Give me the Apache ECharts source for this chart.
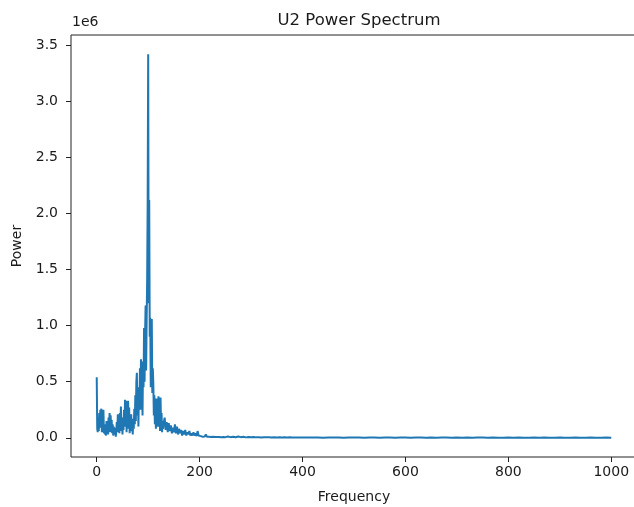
<!DOCTYPE html>
<html>
<head>
<meta charset="utf-8">
<script src="https://cdn.jsdelivr.net/npm/echarts@6/dist/echarts.min.js"></script>
<style>html,body{margin:0;padding:0;background:#fff;}#c{width:634px;height:507px;}</style>
</head>
<body>
<div id="c"></div>
<script>
// Frequency (Hz) and power (in units of 1e6)
const freqLow = [0,1,2,3,4,5,6,7,8,9,10,11,12,13,14,15,16,17,18,19,20,21,22,23,24,25,26,27,28,29,30,31,32,33,34,35,36,37,38,39,40,41,42,43,44,45,46,47,48,49,50,51,52,53,54,55,56,57,58,59,60,61,62,63,64,65,66,67,68,69,70,71,72,73,74,75,76,77,78,79,80,81,82,83,84,85,86,87,88,89,90,91,92,93,94,95,96,97,98,99,100,101,102,103,104,105,106,107,108,109,110,111,112,113,114,115,116,117,118,119,120,121,122,123,124,125,126,127,128,129,130];
const powLow = [0.54,0.08,0.05,0.12,0.06,0.22,0.09,0.25,0.10,0.26,0.05,0.18,0.08,0.25,0.04,0.12,0.03,0.09,0.02,0.15,0.06,0.08,0.03,0.18,0.07,0.22,0.05,0.20,0.09,0.16,0.04,0.12,0.02,0.10,0.05,0.03,0.09,0.01,0.06,0.14,0.05,0.21,0.08,0.17,0.04,0.22,0.10,0.28,0.06,0.18,0.03,0.12,0.07,0.25,0.10,0.34,0.12,0.33,0.05,0.30,0.15,0.33,0.08,0.27,0.04,0.18,0.10,0.21,0.06,0.12,0.03,0.17,0.08,0.26,0.12,0.38,0.15,0.50,0.58,0.20,0.45,0.10,0.40,0.30,0.62,0.25,0.70,0.35,0.55,0.20,0.68,0.45,0.98,0.50,0.93,1.18,0.60,1.05,1.40,2.10,3.42,1.20,2.12,0.90,1.07,0.45,0.95,1.06,0.40,0.62,0.48,0.20,0.38,0.12,0.30,0.08,0.35,0.15,0.28,0.10,0.37,0.18,0.33,0.06,0.36,0.12,0.22,0.05,0.15,0.08,0.13];
const freqMid = [132,134,136,138,140,142,144,146,148,150,152,154,156,158,160,162,164,166,168,170,172,174,176,178,180,182,184,186,188,190,192,194,196,198,200,202,204,206,208,210,212,214,216,218,220,222,224,226,228,230,232,234,236,238,240,242,244,246,248,250];
const powMid = [0.18,0.07,0.14,0.05,0.13,0.06,0.11,0.04,0.09,0.05,0.12,0.04,0.10,0.03,0.08,0.04,0.07,0.02,0.06,0.03,0.07,0.02,0.05,0.03,0.06,0.02,0.04,0.02,0.05,0.02,0.04,0.015,0.06,0.02,0.035,0.015,0.03,0.01,0.025,0.012,0.03,0.01,0.022,0.01,0.02,0.008,0.018,0.01,0.02,0.008,0.016,0.007,0.015,0.008,0.014,0.006,0.012,0.007,0.012,0.006];
const freqHigh = [255,260,265,270,275,280,285,290,295,300,305,310,315,320,325,330,335,340,345,350,355,360,365,370,375,380,385,390,395,400];
const powHigh = [0.011,0.006,0.010,0.005,0.012,0.006,0.009,0.004,0.008,0.005,0.007,0.004,0.006,0.003,0.006,0.004,0.005,0.003,0.005,0.003,0.004,0.002,0.004,0.003,0.004,0.002,0.003,0.002,0.003,0.002];
const freqTail = [410,420,430,440,450,460,470,480,490,500,510,520,530,540,550,560,570,580,590,600,610,620,630,640,650,660,670,680,690,700,710,720,730,740,750,760,770,780,790,800,810,820,830,840,850,860,870,880,890,900,910,920,930,940,950,960,970,980,990,1000];
const powTail = [0.003,0.002,0.003,0.001,0.002,0.003,0.002,0.001,0.002,0.002,0.003,0.001,0.002,0.002,0.001,0.003,0.002,0.001,0.002,0.002,0.001,0.002,0.003,0.001,0.002,0.001,0.002,0.002,0.001,0.002,0.001,0.002,0.001,0.002,0.002,0.001,0.002,0.001,0.001,0.002,0.001,0.002,0.001,0.001,0.002,0.001,0.002,0.001,0.001,0.002,0.001,0.001,0.002,0.001,0.001,0.002,0.001,0.001,0.002,0.001];
const xTicks = [0,200,400,600,800,1000];
const yTicks = [0,0.5,1.0,1.5,2.0,2.5,3.0,3.5];

const freqs = freqLow.concat(freqMid, freqHigh, freqTail);
const pows = powLow.concat(powMid, powHigh, powTail);
const data = freqs.map((f, i) => [f, pows[i]]);

const FONT = 'DejaVu Sans';
const TXT = '#1a1a1a';
const chart = echarts.init(document.getElementById('c'), null, {renderer: 'canvas'});
chart.setOption({
  animation: false,
  backgroundColor: '#fff',
  title: {
    text: 'U2 Power Spectrum', left: 354, top: 7, textAlign: 'center',
    textStyle: {fontFamily: FONT, fontSize: 16.5, fontWeight: 'normal', color: TXT}
  },
  grid: {left: 71, top: 35, right: -3, bottom: 50, outerBoundsMode: 'none', containLabel: false, show: true, borderColor: '#222', borderWidth: 1, backgroundColor: 'transparent'},
  xAxis: {
    type: 'value', min: -50, max: 1050,
    name: 'Frequency', nameLocation: 'middle', nameGap: 33,
    nameTextStyle: {fontFamily: FONT, fontSize: 14, color: TXT},
    axisLine: {show: false, onZero: false},
    axisTick: {show: true, length: 5, inside: false, customValues: xTicks, lineStyle: {color: '#222'}},
    axisLabel: {customValues: xTicks, margin: 8, fontFamily: FONT, fontSize: 14, color: TXT, formatter: v => String(v)},
    splitLine: {show: false}
  },
  yAxis: {
    type: 'value', min: -0.171, max: 3.591,
    name: 'Power', nameLocation: 'middle', nameGap: 43, nameRotate: 90,
    nameTextStyle: {fontFamily: FONT, fontSize: 14, color: TXT},
    axisLine: {show: false, onZero: false},
    axisTick: {show: true, length: 5, inside: false, customValues: yTicks, lineStyle: {color: '#222'}},
    axisLabel: {customValues: yTicks, margin: 13, fontFamily: FONT, fontSize: 14, color: TXT, formatter: v => v.toFixed(1)},
    splitLine: {show: false}
  },
  graphic: [{
    type: 'text', left: 72, top: 15,
    style: {text: '1e6', font: '14px "DejaVu Sans"', fill: TXT}
  }],
  series: [{
    type: 'line', data: data, showSymbol: false, symbol: 'none',
    lineStyle: {color: '#1f77b4', width: 2}, clip: true
  }]
});
</script>
</body>
</html>
